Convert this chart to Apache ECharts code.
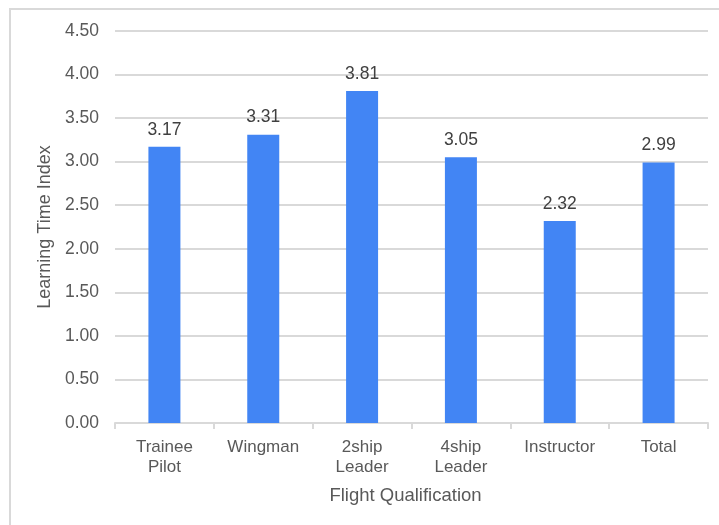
<!DOCTYPE html>
<html>
<head>
<meta charset="utf-8">
<script src="https://cdn.jsdelivr.net/npm/echarts@6/dist/echarts.min.js"></script>
<style>
html,body{margin:0;padding:0;background:#fff;}
#chart{width:719px;height:525px;}
</style>
</head>
<body>
<div id="chart"></div>
<script>
const categories = ['Trainee\nPilot', 'Wingman', '2ship\nLeader', '4ship\nLeader', 'Instructor', 'Total'];
const values = [3.17, 3.31, 3.81, 3.05, 2.32, 2.99];
const yTicks = { min: 0, max: 4.5, interval: 0.5 };

const textColor = '#595959';
const font = 'Liberation Sans, Arial, sans-serif';

const chart = echarts.init(document.getElementById('chart'), null, { renderer: 'canvas' });
chart.setOption({
  animation: false,
  backgroundColor: '#fff',
  graphic: [{
    type: 'rect',
    shape: { x: 10, y: 9, width: 800, height: 600 },
    style: { fill: 'none', stroke: '#d9d9d9', lineWidth: 2 },
    z: 100
  }],
  grid: { left: 115, right: 11, top: 31, bottom: 102, containLabel: false },
  xAxis: {
    type: 'category',
    data: categories,
    name: 'Flight Qualification',
    nameLocation: 'middle',
    nameGap: 63,
    nameTextStyle: { color: textColor, fontSize: 18.5, fontFamily: font, padding: [0, 12, 0, 0] },
    axisLine: { show: true, lineStyle: { color: '#d9d9d9', width: 2 } },
    axisTick: { show: true, length: 6, lineStyle: { color: '#d9d9d9', width: 2 } },
    axisLabel: { color: textColor, fontSize: 17, fontFamily: font, margin: 14, lineHeight: 20, interval: 0 }
  },
  yAxis: {
    type: 'value',
    min: yTicks.min,
    max: yTicks.max,
    interval: yTicks.interval,
    name: 'Learning Time Index',
    nameLocation: 'middle',
    nameGap: 60,
    nameRotate: 90,
    nameTextStyle: { color: textColor, fontSize: 18, fontFamily: font },
    axisLine: { show: false },
    axisTick: { show: false },
    splitLine: { show: true, lineStyle: { color: '#d9d9d9', width: 2 } },
    axisLabel: { color: textColor, fontSize: 17.5, fontFamily: font, margin: 16,
      formatter: v => v.toFixed(2) }
  },
  series: [{
    type: 'bar',
    data: values,
    barWidth: 32,
    itemStyle: { color: '#4285F4' },
    label: {
      show: true,
      position: 'top',
      distance: 8,
      color: '#404040',
      fontSize: 17.5,
      fontFamily: font,
      formatter: p => p.value.toFixed(2)
    }
  }]
});
</script>
</body>
</html>
